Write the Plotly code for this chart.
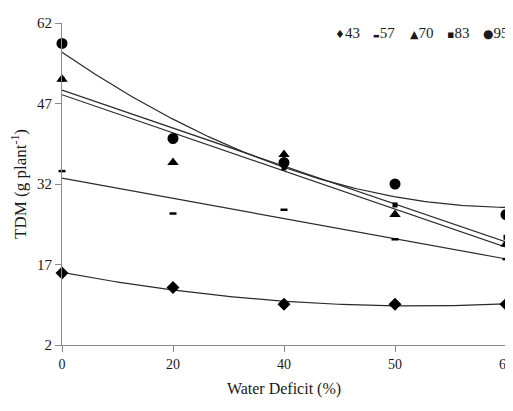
import numpy as np
import plotly.graph_objects as go

categories = ["0", "20", "40", "50", "60"]
series_names = ["43", "57", "70", "83", "95"]
v43 = [15.4, 12.7, 9.6, 9.6, 9.6]
v57 = [34.4, 26.5, 27.2, 21.7, 18.0]
v70 = [51.5, 36.0, 37.5, 26.3, 20.8]
v83 = [51.5, 40.0, 35.0, 28.1, 22.1]
v95 = [58.2, 40.5, 36.0, 32.0, 26.3]
y_ticks = [2, 17, 32, 47, 62]

values = [v43, v57, v70, v83, v95]
symbols = ["diamond", "line-ew", "triangle-up", "square", "circle"]
sizes = [10, 5, 10, 5, 11]
fit_degree = [2, 1, 1, 1, 2]
legend_glyphs = [("\u2666", 11), ("\u25AC", 7), ("\u25B2", 11), ("\u25AA", 11), ("\u25CF", 12)]

# figure geometry (page body adds an 8px offset)
W, H = 505, 395
ML, MR, MT, MB = 54, 7, 12, 58

xi = np.arange(len(categories))
xd = np.linspace(0, len(categories) - 1, 120)

fig = go.Figure()

# trend lines fitted to the data
for vals, deg in zip(values, fit_degree):
    coef = np.polyfit(xi, vals, deg)
    fig.add_trace(go.Scatter(x=xd, y=np.polyval(coef, xd), mode="lines",
                             showlegend=False, hoverinfo="skip",
                             line=dict(color="#2a2a2a", width=1.2)))

for name, vals, sym, size in zip(series_names, values, symbols, sizes):
    mk = dict(symbol=sym, size=size, color="black")
    if sym == "line-ew":
        mk["line"] = dict(color="black", width=2.5)
    fig.add_trace(go.Scatter(x=xi, y=vals, mode="markers", name=name, marker=mk,
                             cliponaxis=False, showlegend=False))

# legend drawn as a text line at the top right
leg_left_px = [333, 371, 408, 445, 481]  # window pixels
pw = W - ML - MR
ph = H - MT - MB
leg_y = (H - MB - (30 - 8)) / ph
annotations = []
for name, (g, gs), lx in zip(series_names, legend_glyphs, leg_left_px):
    annotations.append(dict(
        xref="paper", yref="paper", x=(lx - 8 - ML) / pw, y=leg_y,
        xanchor="left", yanchor="middle", showarrow=False,
        text=f"<span style='font-family:DejaVu Sans;font-size:{gs}px'>{g}</span>{name}",
        font=dict(family="Liberation Serif", size=15, color="#1a1a1a")))

fig.update_layout(
    width=W, height=H,
    margin=dict(l=ML, r=MR, t=MT, b=MB),
    paper_bgcolor="white", plot_bgcolor="white",
    font=dict(family="Liberation Serif", size=15, color="#1a1a1a"),
    showlegend=False,
    annotations=annotations,
    xaxis=dict(range=[0, 4.0], tickvals=list(xi), ticktext=categories,
               showgrid=False, zeroline=False, showline=True, linecolor="#8a8a8a",
               linewidth=1, ticks="outside", ticklen=6, tickcolor="#8a8a8a",
               tickfont=dict(size=14), ticklabeloverflow="allow", automargin=False,
               title=dict(text="Water Deficit (%)", font=dict(size=16), standoff=12)),
    yaxis=dict(range=[2, 62], tickvals=y_ticks, showgrid=False, zeroline=False,
               showline=True, linecolor="#8a8a8a", linewidth=1, ticks="outside",
               ticklen=6, tickcolor="#8a8a8a", tickfont=dict(size=15),
               title=dict(text="TDM (g plant<sup>-1</sup>)", font=dict(size=17), standoff=8)),
)

fig.write_html("out.html")
